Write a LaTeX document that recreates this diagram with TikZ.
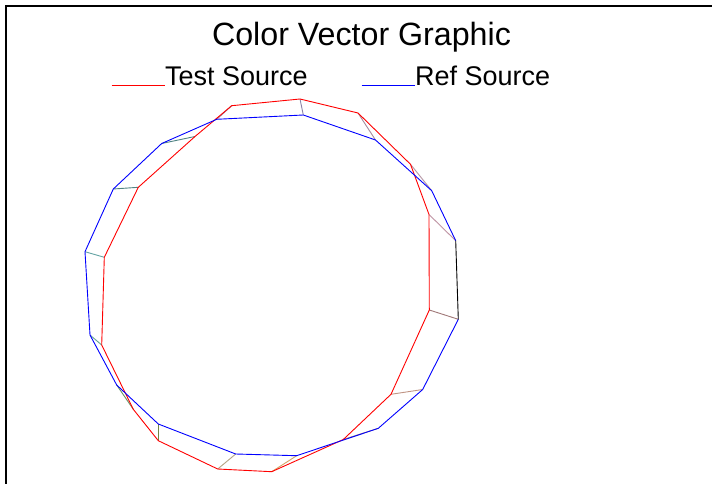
\documentclass[tikz,border=0pt]{standalone}
\usepackage{fontspec}
\setmainfont{Liberation Sans}
\begin{document}
\begin{tikzpicture}[x=1bp,y=-1bp,
  refline/.style={blue,line width=0.9bp,line join=miter},
  testline/.style={red,line width=0.9bp,line join=miter},
  link/.style={line width=0.9bp},
  frameline/.style={black,line width=1.6bp},
  titletext/.style={inner sep=0pt,anchor=base,font=\fontsize{32.2bp}{36bp}\selectfont},
  legtext/.style={inner sep=0pt,anchor=base west,font=\fontsize{27bp}{30bp}\selectfont}]
\useasboundingbox (0,0) rectangle (712,484);
\fill[white] (0,0) rectangle (712,484);
% frame
\coordinate (f1) at (5.8,484);
\coordinate (f2) at (5.8,5.8);
\coordinate (f3) at (712,5.8);
\draw[frameline] (f1) -- (f2) -- (f3);
% title and legend
\node[titletext] (title) at (361.5,45.7) {Color Vector Graphic};
\coordinate (lt1) at (111.7,85.7);
\coordinate (lt2) at (165,85.7);
\coordinate (lr1) at (361.7,85.7);
\coordinate (lr2) at (415,85.7);
\draw[testline] (lt1) -- (lt2);
\draw[refline] (lr1) -- (lr2);
\node[legtext] (legtest) at (165,85.7) {Test Source};
\node[legtext] (legref) at (415,85.7) {Ref Source};
% test source vertices
\coordinate (R1) at (300,99);
\coordinate (R2) at (358,113);
\coordinate (R3) at (410.5,164.3);
\coordinate (R4) at (429,214.5);
\coordinate (R5) at (429.3,310);
\coordinate (R6) at (391,394.3);
\coordinate (R7) at (343.3,439.5);
\coordinate (R8) at (271.7,471.7);
\coordinate (R9) at (217.7,469);
\coordinate (R10) at (158.3,440.7);
\coordinate (R11) at (133.3,409.3);
\coordinate (R12) at (101.7,345);
\coordinate (R13) at (104.3,257.3);
\coordinate (R14) at (138.3,187.3);
\coordinate (R15) at (195,136.5);
\coordinate (R16) at (231.7,105.7);
% ref source vertices
\coordinate (B1) at (303.3,115);
\coordinate (B2) at (375.5,140);
\coordinate (B3) at (431.7,190.7);
\coordinate (B4) at (455.7,240.7);
\coordinate (B5) at (458.3,319.3);
\coordinate (B6) at (422.7,389.5);
\coordinate (B7) at (378.3,428.3);
\coordinate (B8) at (296.7,455.7);
\coordinate (B9) at (235.7,454);
\coordinate (B10) at (158.3,424);
\coordinate (B11) at (116.7,385);
\coordinate (B12) at (90,335);
\coordinate (B13) at (85,251.7);
\coordinate (B14) at (113.3,189);
\coordinate (B15) at (161.7,143.5);
\coordinate (B16) at (216.7,119.3);
% links between corresponding vertices
\definecolor{k1}{HTML}{8A84A8}
\definecolor{k2}{HTML}{A68C9C}
\definecolor{k3}{HTML}{B494A4}
\definecolor{k4}{HTML}{C094A4}
\definecolor{k5}{HTML}{A07878}
\definecolor{k6}{HTML}{C09484}
\definecolor{k7}{HTML}{A88474}
\definecolor{k8}{HTML}{D4A464}
\definecolor{k9}{HTML}{B4A484}
\definecolor{k10}{HTML}{708444}
\definecolor{k11}{HTML}{649464}
\definecolor{k12}{HTML}{64A494}
\definecolor{k13}{HTML}{64A4A4}
\definecolor{k14}{HTML}{508484}
\definecolor{k15}{HTML}{508484}
\definecolor{k16}{HTML}{8484A4}
\foreach \i in {1,...,16} {\draw[link,color=k\i] (R\i) -- (B\i);}
% polygons
\draw[testline] (R1) -- (R2) -- (R3) -- (R4) -- (R5) -- (R6) -- (R7) -- (R8) -- (R9) -- (R10) -- (R11) -- (R12) -- (R13) -- (R14) -- (R15) -- (R16) -- cycle;
\draw[refline] (B5) -- (B6) -- (B7) -- (B8) -- (B9) -- (B10) -- (B11) -- (B12) -- (B13) -- (B14) -- (B15) -- (B16) -- (B1) -- (B2) -- (B3) -- (B4);
\draw[link,black] (B4) -- (B5);
\end{tikzpicture}
\end{document}
